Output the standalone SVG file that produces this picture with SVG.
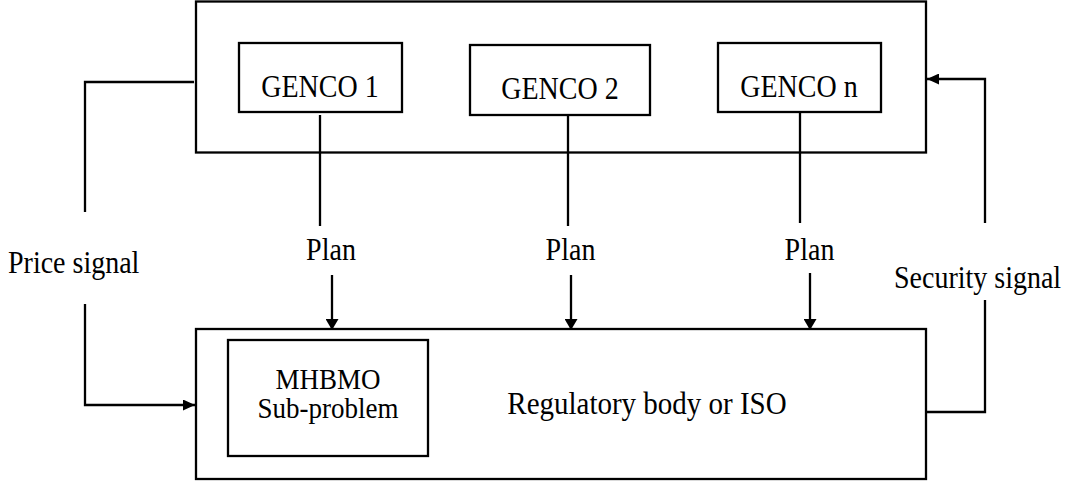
<svg xmlns="http://www.w3.org/2000/svg" width="1073" height="484" viewBox="0 0 1073 484">
<style>
.box{fill:none;stroke:#000;stroke-width:2.3}
.ln{fill:none;stroke:#000;stroke-width:2.3}
.c{text-anchor:middle}
</style>
<defs>
<marker id="ah" markerWidth="12" markerHeight="11" refX="12" refY="5.5" orient="auto" markerUnits="userSpaceOnUse">
<path d="M0,0 L12,5.5 L0,11 Z" fill="#000"/>
</marker>
<marker id="ahp" markerWidth="11" markerHeight="13" refX="11" refY="6.5" orient="auto" markerUnits="userSpaceOnUse">
<path d="M0,0 L11,6.5 L0,13 Z" fill="#000"/>
</marker>
</defs>
<rect width="1073" height="484" fill="#fff"/>
<g font-family="Liberation Serif, Times New Roman, serif" font-size="28" fill="#000">
<g id="genco-group">
<rect class="box" x="196" y="1.5" width="730" height="151"/>
</g>
<g id="genco1">
<rect class="box" x="239" y="43" width="163" height="69"/>
<text class="c" transform="matrix(1,0,0,1.13,320,97)">GENCO 1</text>
</g>
<g id="genco2">
<rect class="box" x="470" y="45" width="180" height="70"/>
<text class="c" transform="matrix(1,0,0,1.13,560,99)">GENCO 2</text>
</g>
<g id="gencon">
<rect class="box" x="718" y="43" width="163" height="69"/>
<text class="c" transform="matrix(1,0,0,1.13,799,97)">GENCO n</text>
</g>
<g id="iso">
<rect class="box" x="196" y="329" width="730" height="150"/>
<text class="c" font-size="29" transform="matrix(1,0,0,1.1,647,414)">Regulatory body or ISO</text>
</g>
<g id="mhbmo">
<rect class="box" x="228" y="340" width="200" height="116"/>
<text class="c" font-size="27" transform="matrix(1,0,0,1.1,328,389)">MHBMO</text>
<text class="c" font-size="27" transform="matrix(1,0,0,1.1,328,418)">Sub-problem</text>
</g>
<g id="connectors">
<path class="ln" d="M320,115 V226"/>
<path class="ln" d="M568,116 V226"/>
<path class="ln" d="M800,112 V223"/>
<path class="ln" d="M332,275 V330" marker-end="url(#ahp)"/>
<path class="ln" d="M571,275 V330" marker-end="url(#ahp)"/>
<path class="ln" d="M810,273 V330" marker-end="url(#ahp)"/>
<path class="ln" d="M194,82 H85 V212"/>
<path class="ln" d="M85,304 V405 H195" marker-end="url(#ah)"/>
<path class="ln" d="M927,412 H985 V300"/>
<path class="ln" d="M985,223 V79 H927" marker-end="url(#ah)"/>
</g>
<g id="labels">
<text transform="matrix(1,0,0,1.13,8,273)">Price signal</text>
<text transform="matrix(1,0,0,1.13,894,288)">Security signal</text>
<text class="c" transform="matrix(1,0,0,1.13,331,260)">Plan</text>
<text class="c" transform="matrix(1,0,0,1.13,570.5,260)">Plan</text>
<text class="c" transform="matrix(1,0,0,1.13,809.5,260)">Plan</text>
</g>
</g>
</svg>
